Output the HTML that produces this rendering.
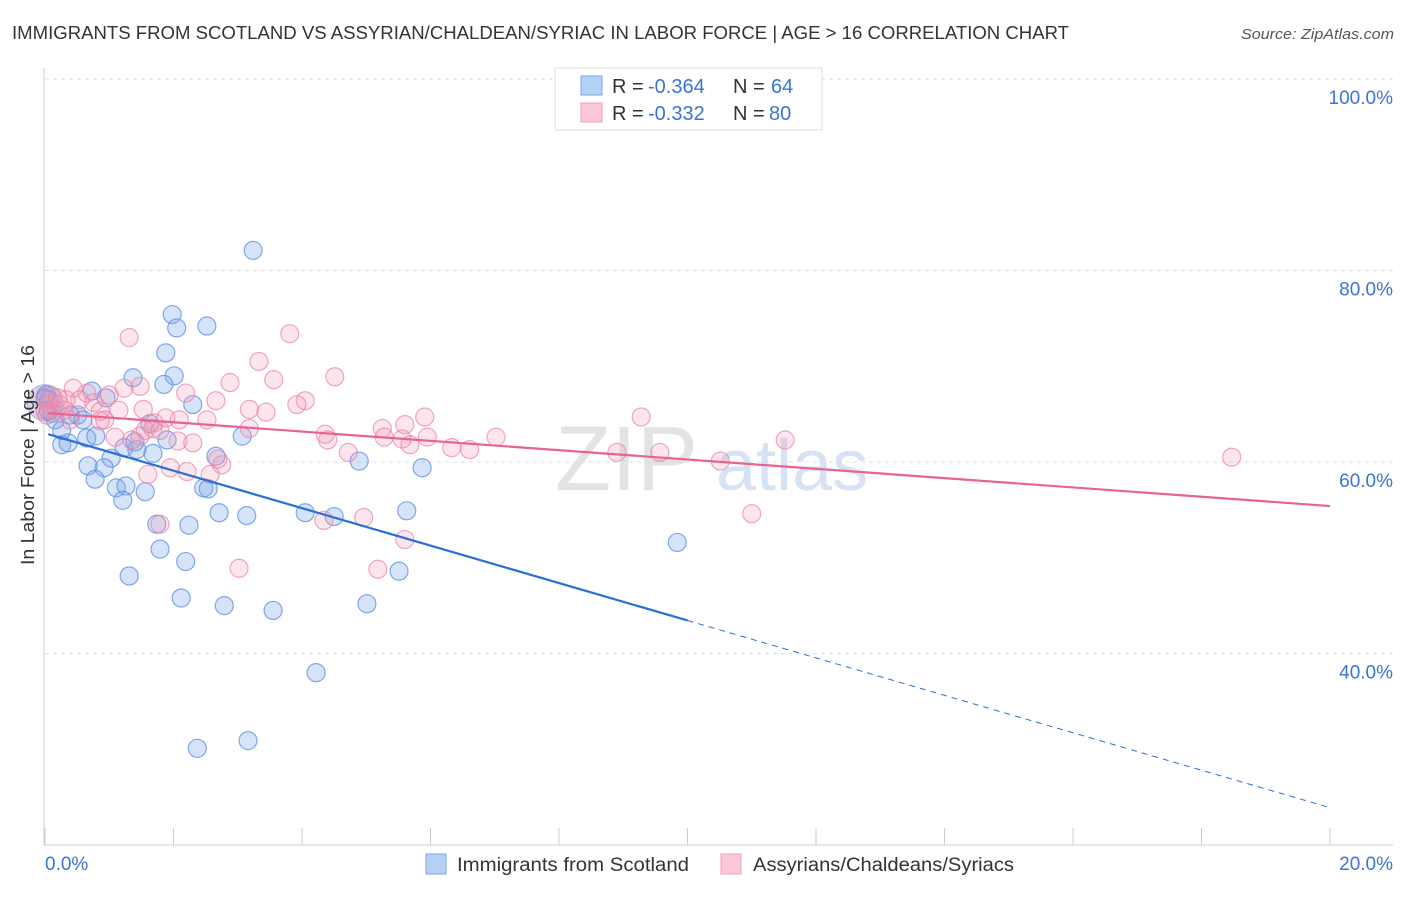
<!DOCTYPE html>
<html><head><meta charset="utf-8"><style>
body{margin:0;background:#fff;font-family:"Liberation Sans",sans-serif;}
svg text{font-family:"Liberation Sans",sans-serif;}
</style></head><body>
<svg id="chart" width="1406" height="892" viewBox="0 0 1406 892" xmlns="http://www.w3.org/2000/svg">
<text x="12" y="39" font-size="18" fill="#333" textLength="1057" lengthAdjust="spacingAndGlyphs">IMMIGRANTS FROM SCOTLAND VS ASSYRIAN/CHALDEAN/SYRIAC IN LABOR FORCE | AGE &gt; 16 CORRELATION CHART</text>
<text x="1241" y="39" font-size="15" fill="#555" font-style="italic" textLength="153" lengthAdjust="spacingAndGlyphs">Source: ZipAtlas.com</text>
<g>
<text x="555" y="490" font-size="92" fill="#d8d8d8" font-family="Liberation Serif" opacity="0.7">ZIP</text>
<text x="716" y="490" font-size="72" fill="#c6d8f0" opacity="0.7">atlas</text>
</g>
<g id="grid"></g>
<g id="axes"></g>
<g id="pts"></g>
<g id="lines"></g>
<text transform="translate(34,455) rotate(-90)" font-size="18" fill="#333" text-anchor="middle" textLength="220" lengthAdjust="spacingAndGlyphs">In Labor Force | Age &gt; 16</text>
<g>
<rect x="555" y="68" width="267" height="62" fill="#fff" stroke="#ddd"/>
<rect x="581" y="76" width="21" height="19" fill="#b5d0f5" stroke="#7aa6e6"/>
<rect x="581" y="103" width="21" height="19" fill="#fcc8d8" stroke="#f0a0b8"/>
<text x="612" y="93" font-size="20" fill="#333">R = <tspan x="648" fill="#3a74d6">-0.364</tspan><tspan x="733">N = </tspan><tspan x="771" fill="#3a74d6">64</tspan></text>
<text x="612" y="120" font-size="20" fill="#333">R = <tspan x="648" fill="#3a74d6">-0.332</tspan><tspan x="733">N = </tspan><tspan x="769" fill="#3a74d6">80</tspan></text>
</g>
<g>
<rect x="426" y="854" width="20" height="20" fill="#b5d0f5" stroke="#7aa6e6"/>
<text x="457" y="871" font-size="19" fill="#333" textLength="232" lengthAdjust="spacingAndGlyphs">Immigrants from Scotland</text>
<rect x="721" y="854" width="20" height="20" fill="#fcc8d8" stroke="#f0a0b8"/>
<text x="753" y="871" font-size="19" fill="#333" textLength="261" lengthAdjust="spacingAndGlyphs">Assyrians/Chaldeans/Syriacs</text>
</g>
</svg>
<script>
const yTicks=[100,80,60,40];
const yTickLabels=["100.0%","80.0%","60.0%","40.0%"];
const xTicks=[0,2,4,6,8,10,12,14,16,18,20];
const xEndLabels=["0.0%","20.0%"];
const blueX=[3.24,1.98,2.05,2.52,1.88,2.01,1.85,1.37,0.73,0.95,2.30,0.06,0.16,0.51,0.59,0.26,0.36,0.65,0.79,1.23,1.63,1.43,1.68,3.07,2.66,1.03,0.92,0.67,0.78,1.11,1.26,1.21,1.56,2.47,2.54,4.89,5.87,2.71,3.14,4.05,4.50,5.63,1.74,2.24,1.79,2.19,1.31,5.51,9.84,2.12,2.79,3.55,5.01,4.22,2.37,3.16,0.0,0.05,0.26,0.39,1.40,1.90,0.02,0.11];
const blueY=[82.1,75.4,74.0,74.2,71.4,69.0,68.1,68.8,67.4,66.7,66.0,66.5,64.4,64.9,64.4,61.8,62.0,62.5,62.7,61.5,64.0,61.3,60.9,62.7,60.6,60.4,59.4,59.6,58.2,57.3,57.5,56.0,56.9,57.3,57.2,60.1,59.4,54.7,54.4,54.7,54.3,54.9,53.5,53.4,50.9,49.6,48.1,48.6,51.6,45.8,45.0,44.5,45.2,38.0,30.1,30.9,66.7,65.4,63.3,64.9,62.1,62.3,67.0,65.1];
const pinkX=[1.31,3.81,3.33,2.88,4.51,3.56,1.23,1.48,0.44,0.65,0.54,0.76,1.00,2.19,2.66,3.18,3.44,4.05,3.92,0.05,0.17,0.33,0.86,1.15,1.53,0.93,1.70,1.88,2.09,2.52,1.56,1.68,1.35,1.79,3.18,4.36,4.40,5.25,5.28,5.60,5.91,5.56,5.68,5.95,6.33,6.61,7.02,4.72,2.07,2.30,1.95,2.21,2.75,2.69,2.57,1.60,9.28,9.57,8.90,10.51,11.52,18.47,11.00,4.34,4.96,5.60,5.18,3.02,1.79,0.0,0.11,0.23,0.0,0.03,1.09,1.48,0.86,0.39,0.20,0.30];
const pinkY=[73.0,73.4,70.5,68.3,68.9,68.6,67.7,67.9,67.7,67.2,66.5,66.2,67.0,67.2,66.4,65.5,65.2,66.4,66.0,66.0,65.4,66.5,65.3,65.4,65.5,64.4,64.1,64.6,64.4,64.4,63.3,63.5,62.3,63.3,63.5,62.9,62.3,63.5,62.6,63.9,64.7,62.4,61.8,62.6,61.5,61.3,62.6,61.0,62.2,62.0,59.4,59.0,59.7,60.3,58.7,58.7,64.7,61.0,61.0,60.1,62.3,60.5,54.6,53.9,54.2,51.9,48.8,48.9,53.5,66.5,66.9,66.0,65.4,64.9,62.6,62.7,64.3,64.4,66.7,65.4];
const blueTrend=[63.0,23.9];
const pinkTrend=[65.1,55.4];
const blueSolidEnd=10;

const NS="http://www.w3.org/2000/svg";
const sx=v=>45+v*64.25;
const sy=v=>79+(100-v)*9.575;
function mk(tag,attrs,parent){const e=document.createElementNS(NS,tag);for(const k in attrs)e.setAttribute(k,attrs[k]);parent.appendChild(e);return e;}
const grid=document.getElementById('grid'),axes=document.getElementById('axes'),pts=document.getElementById('pts'),lines=document.getElementById('lines');
yTicks.forEach((t,i)=>{
  const l=mk('line',{x1:45,x2:1393,y1:sy(t),y2:sy(t),stroke:'#ddd','stroke-dasharray':'4,4'},grid);
  
  
  const tx=mk('text',{x:1393,y:sy(t)+25,'font-size':19,fill:'#3a74d6','text-anchor':'end'},axes);
  tx.textContent=yTickLabels[i];
  
  
});
mk('line',{x1:44,x2:44,y1:68,y2:845,stroke:'#ccc'},axes);
mk('line',{x1:44,x2:1393,y1:845,y2:845,stroke:'#ccc'},axes);
xTicks.forEach(t=>{
  const l=mk('line',{x1:sx(t),x2:sx(t),y1:828,y2:845,stroke:'#ccc'},axes);
  
  
});
const xl0=mk('text',{x:45,y:870,'font-size':19,fill:'#3a74d6'},axes);xl0.textContent=xEndLabels[0];


const xl1=mk('text',{x:1393,y:870,'font-size':19,fill:'#3a74d6','text-anchor':'end'},axes);xl1.textContent=xEndLabels[1];


const big=mk('circle',{cx:sx(0),cy:sy(66.2),r:18,fill:'rgba(170,140,200,0.4)',stroke:'rgba(150,130,200,0.6)'},pts);


blueX.forEach((x,i)=>{
  const c=mk('circle',{cx:sx(x),cy:sy(blueY[i]),r:9,fill:'rgba(120,165,235,0.3)',stroke:'rgba(90,140,225,0.75)','stroke-width':1.2},pts);
  
  
});
pinkX.forEach((x,i)=>{
  const c=mk('circle',{cx:sx(x),cy:sy(pinkY[i]),r:9,fill:'rgba(245,150,180,0.25)',stroke:'rgba(235,130,165,0.7)','stroke-width':1.2},pts);
  
  
});
const by=x=>blueTrend[0]+(blueTrend[1]-blueTrend[0])*x/20;
const b1=mk('line',{x1:sx(0.05),y1:sy(by(0.05)),x2:sx(blueSolidEnd),y2:sy(by(blueSolidEnd)),stroke:'#2a6fd6','stroke-width':2.2},lines);


const b2=mk('line',{x1:sx(blueSolidEnd),y1:sy(by(blueSolidEnd)),x2:sx(20),y2:sy(blueTrend[1]),stroke:'#2a6fd6','stroke-width':1,'stroke-dasharray':'6,5'},lines);


const p1=mk('line',{x1:sx(0.05),y1:sy(pinkTrend[0]),x2:sx(20),y2:sy(pinkTrend[1]),stroke:'#e8638f','stroke-width':2.2},lines);


</script>
</body></html>
